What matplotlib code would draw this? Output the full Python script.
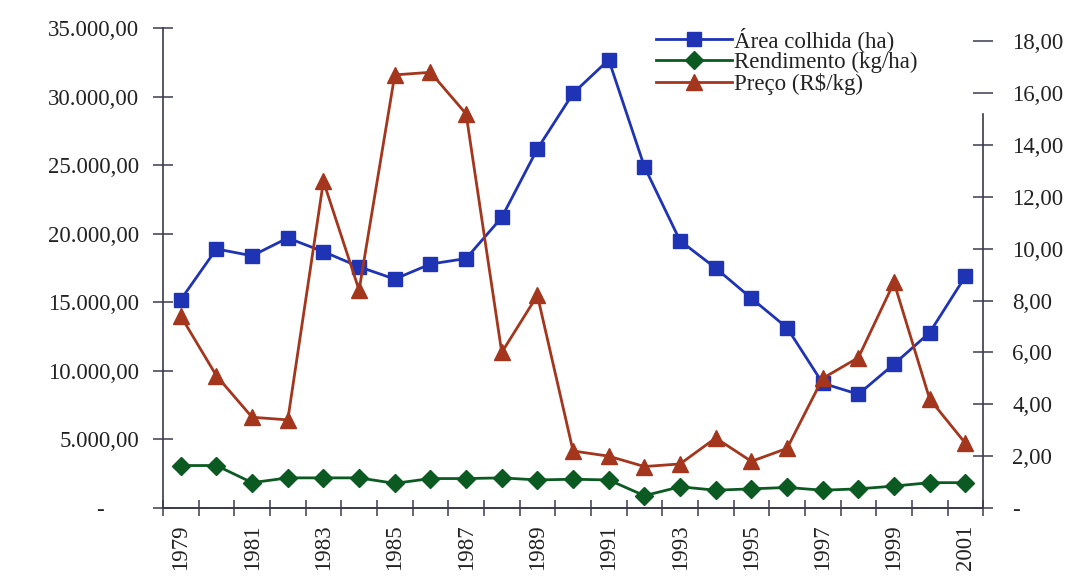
import matplotlib.pyplot as plt
from matplotlib.ticker import FixedLocator, FuncFormatter

plt.rcParams['font.family'] = ['Liberation Serif', 'DejaVu Serif']

anos = list(range(1979, 2002))
area_colhida = [15200, 18900, 18400, 19700, 18700, 17600, 16700, 17800, 18200, 21200,
                26200, 30250, 32700, 24900, 19500, 17500, 15300, 13150, 9100, 8300,
                10500, 12800, 16900]
rendimento = [3100, 3100, 1850, 2200, 2200, 2200, 1800, 2150, 2150, 2200,
              2050, 2100, 2050, 900, 1550, 1300, 1400, 1500, 1300, 1400,
              1600, 1850, 1850]
preco = [7.4, 5.1, 3.5, 3.4, 12.6, 8.4, 16.7, 16.8, 15.2, 6.0,
         8.2, 2.2, 2.0, 1.6, 1.7, 2.7, 1.8, 2.3, 5.0, 5.8,
         8.7, 4.2, 2.5]


def br_fmt(v, pos):
    if v == 0:
        return "-"
    s = f"{v:,.2f}"
    return s.replace(",", "X").replace(".", ",").replace("X", ".")


def br_fmt_left(v, pos):
    # Excel-style: the zero dash sits left of the right edge
    if v == 0:
        return "-      "
    return br_fmt(v, pos)


fig = plt.figure(figsize=(10.9, 5.88), dpi=100)
ax = fig.add_axes([0.1495, 0.136, 0.7525, 0.816])
ax2 = ax.twinx()

x = list(range(len(anos)))
l1, = ax.plot(x, area_colhida, color='#1f33b5', lw=2, marker='s', ms=10,
              label='Área colhida (ha)')
l2, = ax.plot(x, rendimento, color='#0b5a22', lw=2, marker='D', ms=9,
              label='Rendimento (kg/ha)')
l3, = ax2.plot(x, preco, color='#a3361c', lw=2, marker='^', ms=12,
               label='Preço (R$/kg)')

ax.set_xlim(-0.5, len(anos) - 0.5)
ax.set_ylim(0, 35000)
ax2.set_ylim(0, 18.5)

ax.set_yticks(range(0, 35001, 5000))
ax.yaxis.set_major_formatter(FuncFormatter(br_fmt_left))
ax2.set_yticks(range(0, 19, 2))
ax2.yaxis.set_major_formatter(FuncFormatter(br_fmt))

ax.set_xticks(x[::2])
ax.set_xticklabels([str(a) for a in anos[::2]], rotation=90)
ax.xaxis.set_minor_locator(FixedLocator([i - 0.5 for i in range(len(anos) + 1)]))

for a in (ax, ax2):
    a.spines['top'].set_visible(False)
    for s in a.spines.values():
        s.set_color('#3a3a50')
        s.set_linewidth(1.2)
ax2.spines['left'].set_visible(False)
ax.spines['right'].set_visible(False)
ax2.spines['right'].set_bounds(0, 15.2)

ax.tick_params(axis='y', direction='inout', length=14, width=1.1, color='#3a3a50',
               labelsize=16.5, labelcolor='#222222', pad=10)
ax2.tick_params(axis='y', direction='inout', length=14, width=1.1, color='#3a3a50',
                labelsize=16.5, labelcolor='#222222', pad=14)
ax.tick_params(axis='x', which='major', length=0, labelsize=16.5,
               labelcolor='#222222', pad=12)
ax.tick_params(axis='x', which='minor', direction='inout', length=12, width=1.1,
               color='#3a3a50')

leg = ax2.legend(handles=[l1, l2, l3], loc='upper left',
                 bbox_to_anchor=(0.598, 0.962), bbox_transform=fig.transFigure,
                 frameon=True, fontsize=16.5, handlelength=3.3, handletextpad=0.1,
                 labelspacing=0.0, borderpad=0.2, borderaxespad=0)
leg.get_frame().set_facecolor('white')
leg.get_frame().set_edgecolor('none')
leg.get_frame().set_alpha(1)
for t in leg.get_texts():
    t.set_color('#222222')

fig.savefig('out.png', dpi=100, facecolor='white')
